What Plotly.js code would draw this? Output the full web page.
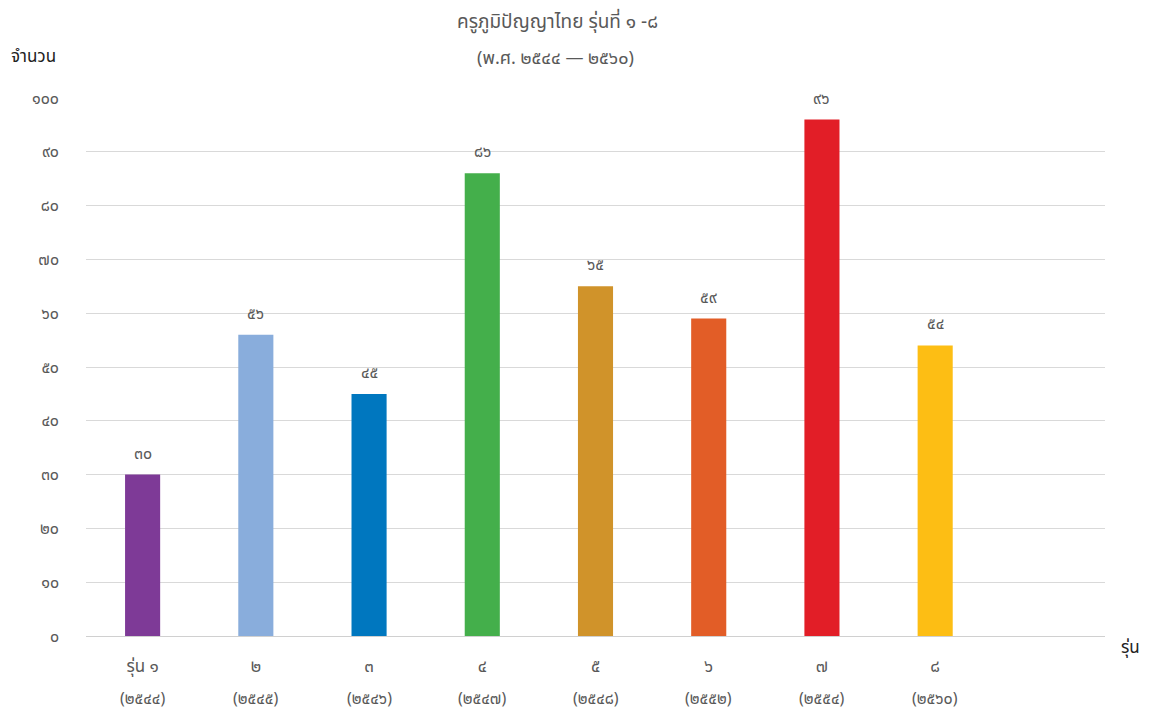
<!DOCTYPE html>
<html>
<head>
<meta charset="utf-8">
<script src="https://cdn.plot.ly/plotly-3.0.1.min.js"></script>
<style>html,body{margin:0;padding:0;background:#fff}#chart{width:1150px;height:711px}</style>
</head>
<body>
<div id="chart"></div>
<script>
// Data
const generations = ["รุ่น ๑", "๒", "๓", "๔", "๕", "๖", "๗", "๘"];
const years = ["(๒๕๔๔)", "(๒๕๔๕)", "(๒๕๔๖)", "(๒๕๔๗)", "(๒๕๔๘)", "(๒๕๕๒)", "(๒๕๕๔)", "(๒๕๖๐)"];
const counts = [30, 56, 45, 86, 65, 59, 96, 54];
const countLabels = ["๓๐", "๕๖", "๔๕", "๘๖", "๖๕", "๕๙", "๙๖", "๕๔"];
const barColors = ["#7E3A97", "#89ADDC", "#0077BF", "#44AF4B", "#D0932A", "#E25D27", "#E21E27", "#FDBE14"];
const yTickVals = [0, 10, 20, 30, 40, 50, 60, 70, 80, 90, 100];
const yTickText = ["๐", "๑๐", "๒๐", "๓๐", "๔๐", "๕๐", "๖๐", "๗๐", "๘๐", "๙๐", "๑๐๐"];

const FONT = "Noto Sans, Noto Sans Thai, sans-serif";
const xIdx = counts.map((_, i) => i);

const trace = {
  type: "bar",
  x: xIdx,
  y: counts,
  width: 0.31,
  marker: {color: barColors},
  hoverinfo: "skip"
};

const annotations = counts.map((v, i) => ({
  x: i, y: v, xref: "x", yref: "y",
  text: countLabels[i], showarrow: false,
  yanchor: "middle", yshift: 22,
  font: {family: FONT, size: 16, color: "#595959"}
}));

years.forEach((yr, i) => annotations.push({
  x: i, y: 0, xref: "x", yref: "paper",
  text: yr, showarrow: false,
  yanchor: "middle", yshift: -62,
  font: {family: FONT, size: 16, color: "#595959"}
}));

annotations.push(
  {xref: "paper", yref: "paper", x: 0.463, y: 1, yshift: 77, text: "ครูภูมิปัญญาไทย รุ่นที่ ๑ -๘",
   showarrow: false, xanchor: "center", yanchor: "middle",
   font: {family: FONT, size: 19, color: "#595959"}},
  {xref: "paper", yref: "paper", x: 0.461, y: 1, yshift: 41, text: "(พ.ศ. ๒๕๔๔ — ๒๕๖๐)",
   showarrow: false, xanchor: "center", yanchor: "middle",
   font: {family: FONT, size: 18, color: "#595959"}},
  {xref: "paper", yref: "paper", x: 0, y: 1, xshift: -53, yshift: 43, text: "จำนวน",
   showarrow: false, xanchor: "center", yanchor: "middle",
   font: {family: FONT, size: 17, color: "#222222"}},
  {xref: "paper", yref: "paper", x: 1, y: 0, xshift: 25, yshift: -10, text: "รุ่น",
   showarrow: false, xanchor: "center", yanchor: "middle",
   font: {family: FONT, size: 17, color: "#222222"}}
);

const layout = {
  width: 1150, height: 711,
  margin: {l: 86, r: 45, t: 98, b: 75},
  paper_bgcolor: "#ffffff",
  plot_bgcolor: "#ffffff",
  showlegend: false,
  xaxis: {
    range: [-0.5, 8.5],
    tickvals: xIdx,
    ticktext: generations,
    showgrid: false,
    zeroline: false,
    showline: false,
    ticks: "",
    ticklabelstandoff: 18,
    tickfont: {family: FONT, size: 17, color: "#595959"},
    fixedrange: true
  },
  yaxis: {
    range: [0, 100],
    tickvals: yTickVals,
    ticktext: yTickText,
    showgrid: true,
    gridcolor: "#d9d9d9",
    gridwidth: 1,
    zeroline: true,
    zerolinecolor: "#d0d0d0",
    zerolinewidth: 1,
    showline: false,
    ticks: "",
    ticklabelstandoff: 26,
    tickfont: {family: FONT, size: 16, color: "#595959"},
    fixedrange: true
  },
  annotations: annotations
};

Plotly.newPlot("chart", [trace], layout, {displayModeBar: false, staticPlot: true});
</script>
</body>
</html>
